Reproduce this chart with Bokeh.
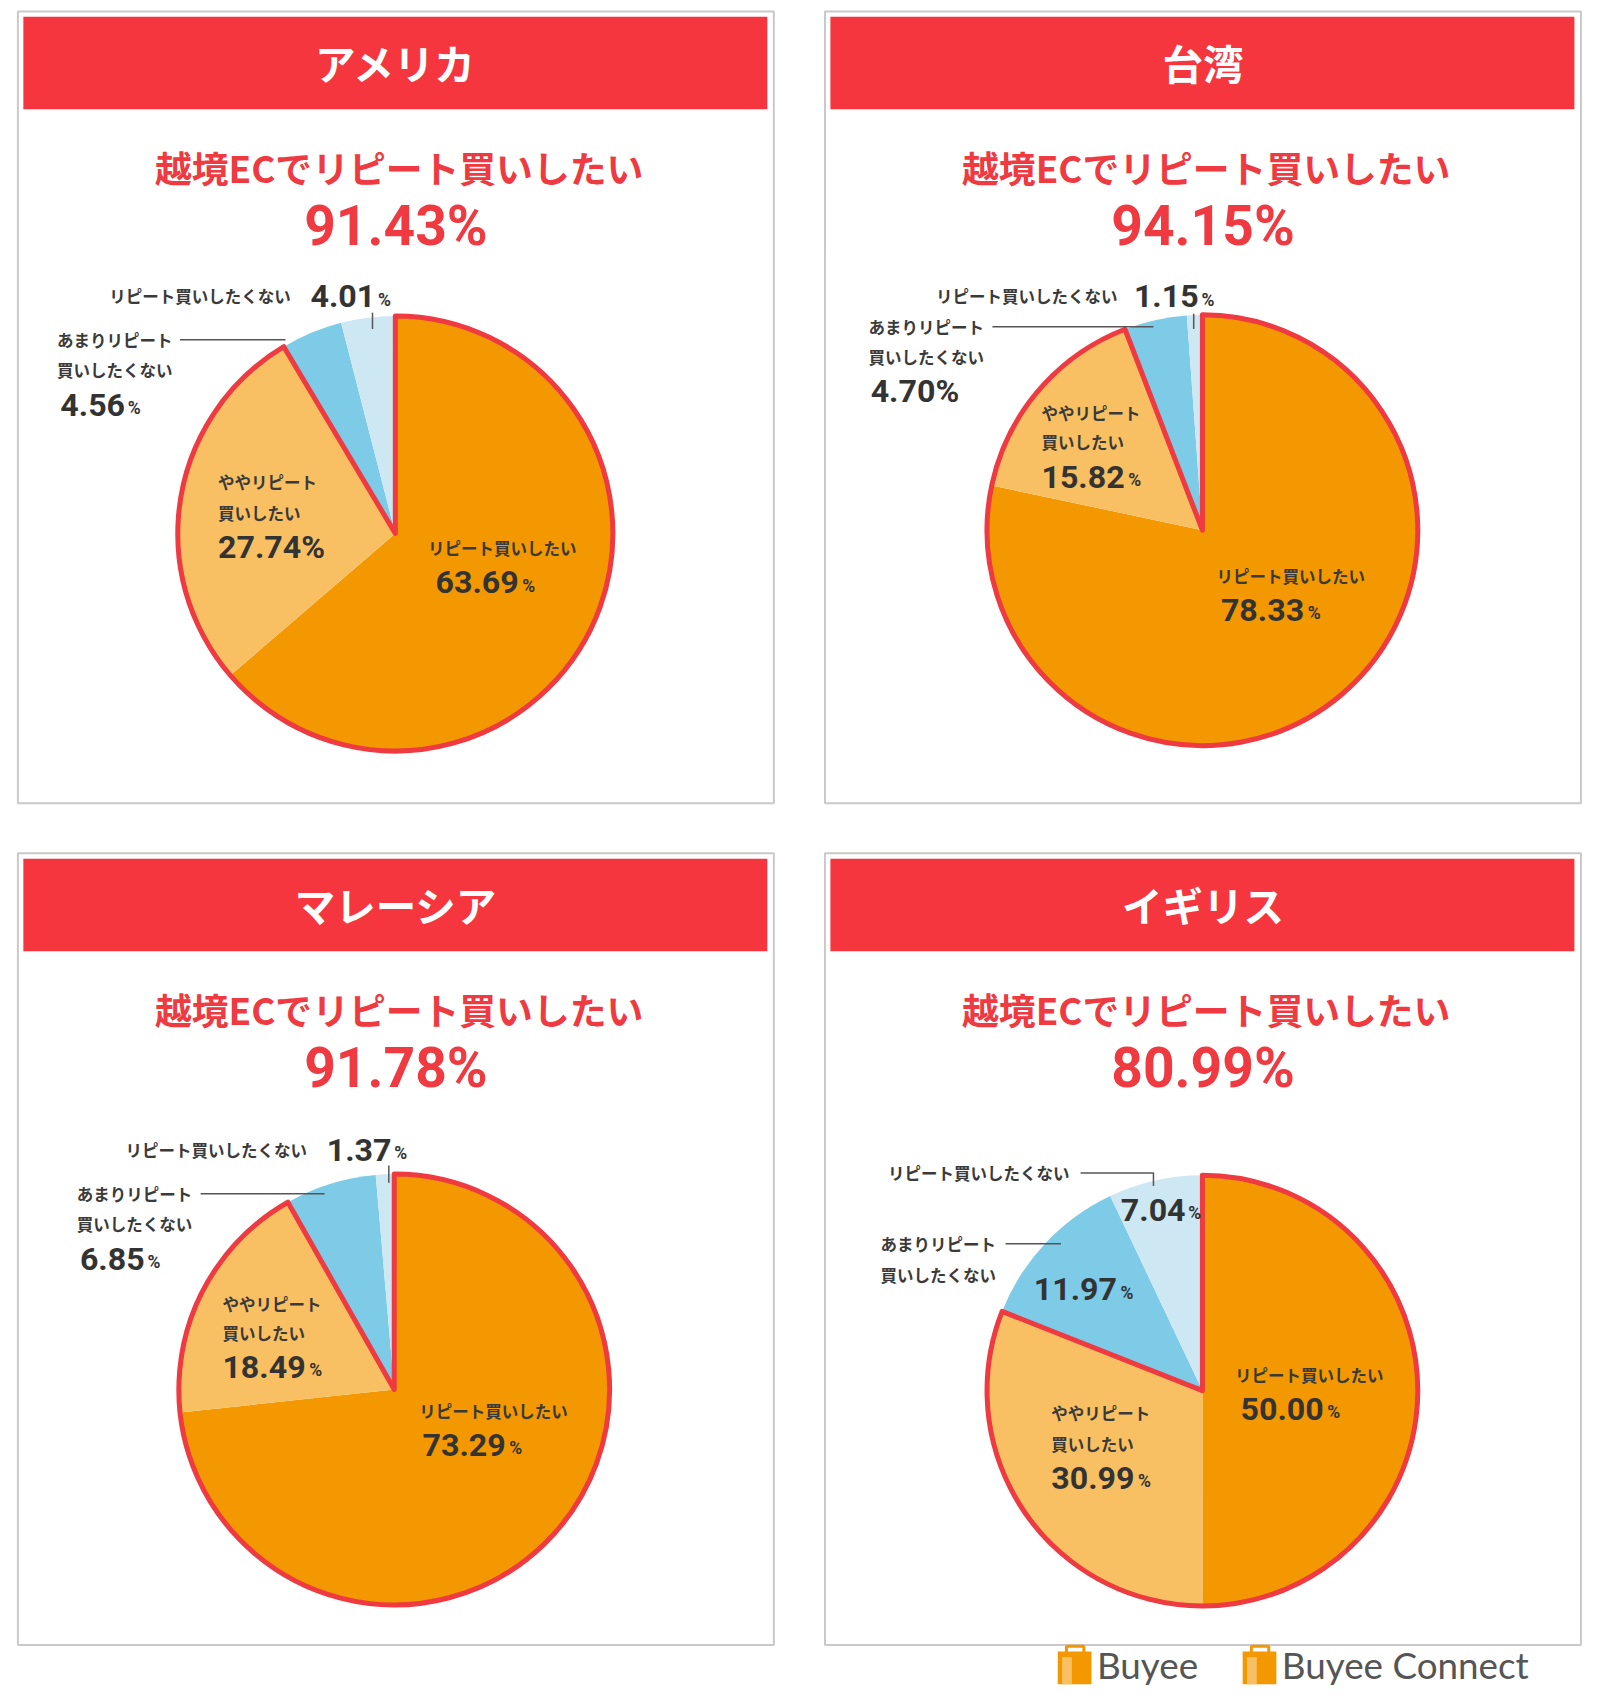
import math
from bokeh.plotting import figure
from bokeh.models import Range1d
from bokeh.core.properties import value
from bokeh.embed import file_html
from bokeh.resources import INLINE

# ---------------- data ----------------
countries = ["アメリカ", "台湾", "マレーシア", "イギリス"]
subtitle = "越境ECでリピート買いしたい"
categories = ["リピート買いしたい", "ややリピート買いしたい",
              "あまりリピート買いしたくない", "リピート買いしたくない"]
usa = [63.69, 27.74, 4.56, 4.01]
taiwan = [78.33, 15.82, 4.70, 1.15]
malaysia = [73.29, 18.49, 6.85, 1.37]
uk = [50.00, 30.99, 11.97, 7.04]
headline = [91.43, 94.15, 91.78, 80.99]
brands = ["Buyee", "Buyee Connect"]

# ---------------- style ----------------
slice_colors = ["#F39800", "#F8C062", "#7ECBE8", "#CDE8F3"]
RED = "#EE3A40"
HEAD = "#F5363E"
DARK = "#333333"
JP = "Noto Sans CJK JP"
NUM = "Roboto"

S = 1600 / 1471.0          # layout measured on 1471-wide preview


def X(d):
    return d * S


def Y(d):
    return 1705 - d * S


p = figure(width=1584, height=1689, x_range=Range1d(0, 1584), y_range=Range1d(16, 1705),
           output_backend="svg", toolbar_location=None, min_border=0,
           x_axis_type=None, y_axis_type=None)
p.grid.visible = False
p.outline_line_color = None
p.background_fill_color = "white"
p.border_fill_color = "white"


def txt(x, y, s, size, color=DARK, font=JP, style="normal", align="left", baseline="middle"):
    p.text(x=[X(x)], y=[Y(y)], text=[s], text_font=value(font), text_font_size=f"{size:.1f}px",
           text_font_style=style, text_color=color, text_align=align, text_baseline=baseline)


def num_width(s, size):
    w = 0.0
    for ch in s:
        w += 0.25 if ch == "." else 0.55
    return w * size


def pct(x, y, v, big_sign, size=35):
    s = f"{v:.2f}"
    if big_sign:
        txt(x, y, s + "%", size / S, font=NUM, style="bold")
    else:
        txt(x, y, s, size / S, font=NUM, style="bold")
        txt(x + (num_width(s, size) + 1) / S, y + 3, "%", 19 / S, font=NUM, style="bold")


# panel: origin, pie centre, radius, label layout
panels = [
    dict(o=(16, 10), c=(363, 490), r=200,
         lab=[dict(lines=[(393, 503)], p=(400, 535), big=False),
              dict(lines=[(200, 443), (200, 471)], p=(200, 502), big=True),
              dict(lines=[(52, 312), (52, 340)], p=(55, 372), big=False,
                   lead=[(165, 312), (262, 312)]),
              dict(lines=[(100, 272)], p=(285, 272), big=False,
                   lead=[(342, 287), (342, 302)])]),
    dict(o=(758, 10), c=(1105, 487), r=198,
         lab=[dict(lines=[(1118, 529)], p=(1122, 560), big=False),
              dict(lines=[(957, 379), (957, 406)], p=(957, 438), big=False),
              dict(lines=[(798, 300), (798, 328)], p=(800, 359), big=True,
                   lead=[(912, 300), (1060, 300)]),
              dict(lines=[(860, 272)], p=(1042, 272), big=False,
                   lead=[(1097, 288), (1097, 302)])]),
    dict(o=(16, 784), c=(362, 1277), r=198,
         lab=[dict(lines=[(385, 1297)], p=(388, 1328), big=False),
              dict(lines=[(204, 1198), (204, 1225)], p=(204, 1256), big=False),
              dict(lines=[(70, 1097), (70, 1125)], p=(73, 1157), big=False,
                   lead=[(184, 1097), (298, 1097)]),
              dict(lines=[(115, 1057)], p=(300, 1057), big=False,
                   lead=[(357, 1071), (357, 1087)])]),
    dict(o=(758, 784), c=(1105, 1278), r=198,
         lab=[dict(lines=[(1135, 1264)], p=(1140, 1295), big=False),
              dict(lines=[(966, 1299), (966, 1327)], p=(966, 1358), big=False),
              dict(lines=[(809, 1143), (809, 1172)], p=(950, 1185), big=False,
                   lead=[(924, 1143), (975, 1143)]),
              dict(lines=[(816, 1078)], p=(1030, 1112), big=False,
                   lead=[(993, 1078), (1060, 1078), (1060, 1090)])]),
]

series = [usa, taiwan, malaysia, uk]

for k, pan in enumerate(panels):
    ox, oy = pan["o"]
    # panel frame
    p.quad(left=[X(ox)], right=[X(ox + 695)], top=[Y(oy)], bottom=[Y(oy + 728)],
           fill_color="white", line_color="#C9C9C9", line_width=2)
    # header band
    p.quad(left=[X(ox + 5)], right=[X(ox + 689)], top=[Y(oy + 5)], bottom=[Y(oy + 90)],
           fill_color=HEAD, line_color=None)
    cx_t = ox + 347.5
    txt(cx_t, oy + 47, countries[k], 44 / S, color="white", style="bold", align="center")
    txt(cx_t + 3, oy + 143, subtitle, 40 / S, color=RED, style="bold", align="center")
    txt(cx_t, oy + 197, f"{headline[k]:.2f}%", 60 / S, color=RED, font=NUM, style="bold",
        align="center")

    # pie
    vals = series[k]
    total = sum(vals)
    cx, cy = X(pan["c"][0]), Y(pan["c"][1])
    r = pan["r"] * S
    cum = 0.0
    starts, ends = [], []
    for v in vals:
        starts.append(math.pi / 2 - 2 * math.pi * cum / total)
        cum += v
        ends.append(math.pi / 2 - 2 * math.pi * cum / total)
    p.wedge(x=[cx] * 4, y=[cy] * 4, radius=r, start_angle=starts, end_angle=ends,
            direction="clock", fill_color=slice_colors, line_color=None)
    pos_end = math.pi / 2 - 2 * math.pi * (vals[0] + vals[1]) / total
    p.wedge(x=[cx], y=[cy], radius=r, start_angle=math.pi / 2, end_angle=pos_end,
            direction="clock", fill_color=None, line_color=RED, line_width=5,
            line_join="round")

    # labels
    for i, lab in enumerate(pan["lab"]):
        name = categories[i]
        if len(lab["lines"]) == 2:
            a, b = name.split("買", 1)
            parts = [a, "買" + b]
        else:
            parts = [name]
        for (lx, ly), s in zip(lab["lines"], parts):
            txt(lx, ly, s, 18 / S, style="bold", color="#3a3a3a")
        px, py = lab["p"]
        pct(px, py, vals[i], lab["big"])
        if "lead" in lab:
            xs = [X(a) for a, b in lab["lead"]]
            ys = [Y(b) for a, b in lab["lead"]]
            p.line(xs, ys, line_color="#555555", line_width=1.5)

# brand logos
for bx, tx, name in [(972, 1008, brands[0]), (1142, 1178, brands[1])]:
    p.quad(left=[X(bx)], right=[X(bx + 31)], top=[Y(1518)], bottom=[Y(1548)],
           fill_color="#F39800", line_color=None)
    p.quad(left=[X(bx + 4)], right=[X(bx + 13)], top=[Y(1523)], bottom=[Y(1548)],
           fill_color="#F8C062", line_color=None)
    p.line([X(bx + 8), X(bx + 8), X(bx + 24), X(bx + 24)],
           [Y(1520), Y(1513), Y(1513), Y(1520)], line_color="#F39800", line_width=3)
    txt(tx, 1530, name, 40 / S, color="#555555", font="Lato")

open("out.html", "w").write(file_html(p, INLINE))
